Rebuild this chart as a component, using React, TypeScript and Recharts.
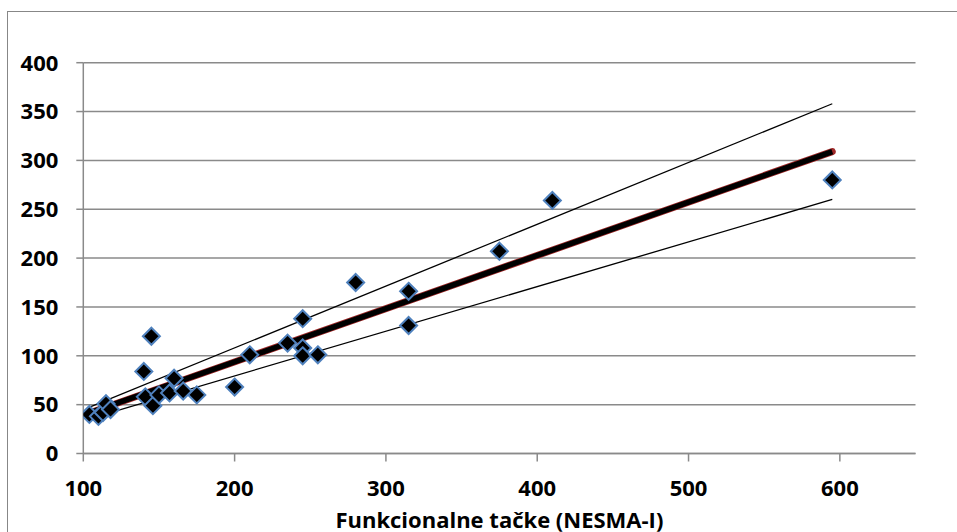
import { ScatterChart, Scatter, XAxis, YAxis, CartesianGrid } from "recharts";

const FONT = '"Open Sans", "Liberation Sans", sans-serif';

// measured points (function points vs effort)
const pointX = [104, 110, 113, 115, 118, 140, 141, 145, 146, 150, 157, 160, 166, 175, 200, 210, 235, 245, 245, 245, 255, 280, 315, 315, 375, 410, 595];
const pointY = [40, 38, 42, 51, 45, 84, 58, 120, 49, 60, 62, 77, 64, 60, 68, 101, 113, 138, 108, 100, 101, 175, 166, 131, 207, 259, 280];

// regression line and its upper / lower bounds (end points)
const lineX = [105, 595];
const fitY = [42, 309];
const upperY = [48, 358];
const lowerY = [36, 260];

const xTicks = [100, 200, 300, 400, 500, 600];
const yTicks = [0, 50, 100, 150, 200, 250, 300, 350, 400];

const points = pointX.map((x, i) => ({ x, y: pointY[i] }));
const toLine = (ys: number[]) => lineX.map((x, i) => ({ x, y: ys[i] }));

const tickStyle = { fontFamily: FONT, fontSize: 22, fontWeight: 700, fill: "#000" };

function Diamond(props: any) {
  const { cx, cy } = props;
  if (cx == null || cy == null) return null;
  const r = 8.5;
  return (
    <polygon
      points={`${cx},${cy - r} ${cx + r},${cy} ${cx},${cy + r} ${cx - r},${cy}`}
      fill="#000"
      stroke="#4f81bd"
      strokeWidth={2}
    />
  );
}

const NoDot = () => <g />;

function AxisTitle({ viewBox }: any) {
  const x = viewBox.x + viewBox.width / 2;
  const y = viewBox.y + 74;
  return (
    <text x={x} y={y} textAnchor="middle" fontFamily={FONT} fontSize={22} fontWeight={700} fill="#000">
      Funkcionalne tačke (NESMA-I)
    </text>
  );
}

export default function App() {
  return (
    <div style={{ position: "fixed", inset: 0, overflow: "hidden", background: "#fff" }}>
      <div style={{ position: "absolute", left: 7, top: 11, width: 1100, height: 700, border: "1px solid #878787" }} />
      <div style={{ position: "absolute", left: 0, top: 0 }}>
        <ScatterChart width={957} height={532} margin={{ top: 62.7, right: 41.5, bottom: 0, left: 23.3 }}>
          <CartesianGrid vertical={false} stroke="#8a8a8a" strokeWidth={1.5} />
          <XAxis
            type="number"
            dataKey="x"
            domain={[100, 650]}
            ticks={xTicks}
            height={78.5}
            allowDataOverflow
            tick={tickStyle}
            tickSize={8}
            tickMargin={19}
            axisLine={{ stroke: "#8a8a8a", strokeWidth: 1.5 }}
            tickLine={{ stroke: "#8a8a8a", strokeWidth: 1.5 }}
            label={<AxisTitle />}
          />
          <YAxis
            type="number"
            dataKey="y"
            domain={[0, 400]}
            ticks={yTicks}
            width={60}
            allowDataOverflow
            tick={tickStyle}
            tickSize={7}
            tickMargin={18}
            axisLine={{ stroke: "#8a8a8a", strokeWidth: 1.5 }}
            tickLine={{ stroke: "#8a8a8a", strokeWidth: 1.5 }}
          />
          <Scatter data={toLine(upperY)} line={{ stroke: "#000", strokeWidth: 1.3 }} shape={NoDot} isAnimationActive={false} />
          <Scatter data={toLine(lowerY)} line={{ stroke: "#000", strokeWidth: 1.3 }} shape={NoDot} isAnimationActive={false} />
          <Scatter data={toLine(fitY)} line={{ stroke: "#a02828", strokeWidth: 7, strokeLinecap: "round" }} shape={NoDot} isAnimationActive={false} />
          <Scatter data={toLine(fitY)} line={{ stroke: "#000", strokeWidth: 5.5 }} shape={NoDot} isAnimationActive={false} />
          <Scatter data={points} shape={<Diamond />} isAnimationActive={false} />
        </ScatterChart>
      </div>
    </div>
  );
}
